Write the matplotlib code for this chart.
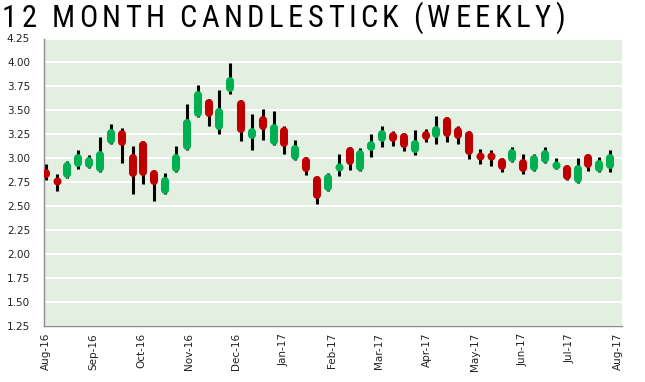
import numpy as np
import matplotlib
matplotlib.use('Agg')
import matplotlib.pyplot as plt
from matplotlib import font_manager

# ── Data: weekly OHLC, Aug-16 .. Jul-17 ──────────────────────────────────────
opens  = [2.89, 2.80, 2.79, 2.91, 2.90, 2.86, 3.15, 3.30, 3.04, 3.18,
          2.88, 2.63, 2.86, 3.09, 3.43, 3.62, 3.30, 3.69, 3.61, 3.20,
          3.44, 3.14, 3.33, 2.98, 3.01, 2.82, 2.66, 2.87, 3.12, 2.87,
          3.08, 3.17, 3.27, 3.26, 3.06, 3.29, 3.21, 3.43, 3.33, 3.28,
          3.06, 3.06, 3.00, 2.96, 2.99, 2.87, 2.95, 2.89, 2.93, 2.74,
          3.04, 2.86, 2.89]
highs  = [2.94, 2.84, 2.97, 3.09, 3.03, 3.22, 3.36, 3.32, 3.125, 3.18,
          2.88, 2.85, 3.125, 3.57, 3.77, 3.62, 3.71, 3.99, 3.61, 3.46,
          3.51, 3.49, 3.34, 3.19, 3.01, 2.82, 2.85, 3.04, 3.12, 3.11,
          3.25, 3.34, 3.29, 3.26, 3.30, 3.31, 3.44, 3.43, 3.34, 3.28,
          3.10, 3.09, 3.00, 3.12, 3.05, 3.05, 3.12, 3.00, 2.93, 3.00,
          3.04, 3.01, 3.09]
lows   = [2.77, 2.66, 2.79, 2.89, 2.90, 2.86, 3.15, 2.95, 2.63, 2.73,
          2.55, 2.63, 2.86, 3.09, 3.43, 3.34, 3.25, 3.67, 3.18, 3.09,
          3.19, 3.14, 3.04, 2.98, 2.83, 2.52, 2.66, 2.81, 2.88, 2.87,
          3.01, 3.12, 3.13, 3.08, 3.03, 3.17, 3.15, 3.17, 3.15, 2.99,
          2.94, 2.92, 2.855, 2.96, 2.84, 2.87, 2.95, 2.89, 2.77, 2.74,
          2.87, 2.86, 2.86]
closes = [2.79, 2.72, 2.96, 3.04, 3.01, 3.08, 3.31, 3.13, 2.80, 2.81,
          2.72, 2.80, 3.05, 3.41, 3.70, 3.43, 3.52, 3.85, 3.26, 3.32,
          3.29, 3.36, 3.12, 3.135, 2.86, 2.57, 2.84, 2.95, 2.93, 3.09,
          3.18, 3.30, 3.17, 3.11, 3.19, 3.19, 3.34, 3.22, 3.20, 3.03,
          2.98, 2.98, 2.88, 3.10, 2.86, 3.03, 3.09, 2.98, 2.77, 2.93,
          2.90, 2.98, 3.04]

months = ['Aug-16', 'Sep-16', 'Oct-16', 'Nov-16', 'Dec-16', 'Jan-17', 'Feb-17',
          'Mar-17', 'Apr-17', 'May-17', 'Jun-17', 'Jul-17', 'Aug-17']
y_ticks = np.arange(1.25, 4.26, 0.25)
TITLE = '12 MONTH CANDLESTICK (WEEKLY)'

# ── Palette ───────────────────────────────────────────────────────────────────
GREEN = '#00B050'
RED   = '#C00000'
PLOT_BG = '#E3F0E1'
AXIS_C = '#8C8C8C'

W, H, DPI = 645, 382, 100
BODY_LW = 5.8   # points
WICK_LW = 2.2

fig = plt.figure(figsize=(W / DPI, H / DPI), dpi=DPI)
fig.patch.set_facecolor('white')
ax = fig.add_axes([44 / W, 1 - 326 / H, (622 - 44) / W, (326 - 38.5) / H])
ax.set_facecolor(PLOT_BG)

n = len(opens)
x = np.arange(n)
ax.set_xlim(-0.16, 53.1)
ax.set_ylim(1.25, 4.25)

# cap radius in data units, so the rounded bodies keep the read extents
px_per_unit = ax.transData.transform([(0, 1)])[0][1] - ax.transData.transform([(0, 0)])[0][1]
r = (BODY_LW / 2 * DPI / 72) / px_per_unit

for yv in y_ticks:
    ax.axhline(yv, color='white', linewidth=1.3, zorder=1)

ax.vlines(x, lows, highs, color='black', linewidth=WICK_LW, zorder=2)
for i in range(n):
    o, c = opens[i], closes[i]
    col = GREEN if c >= o else RED
    top, bot = max(o, c) - r, min(o, c) + r
    if top - bot < 0.01:
        # body shorter than its own width: a round dot
        ax.plot([i], [(o + c) / 2], marker='o', markersize=BODY_LW,
                color=col, markeredgewidth=0, zorder=3)
    else:
        ax.plot([i, i], [bot, top], color=col, linewidth=BODY_LW,
                solid_capstyle='round', zorder=3)

# ── Axes cosmetics ────────────────────────────────────────────────────────────
for s in ['top', 'right']:
    ax.spines[s].set_visible(False)
for s in ['left', 'bottom']:
    ax.spines[s].set_color(AXIS_C)
    ax.spines[s].set_linewidth(1.0)

ax.set_yticks(y_ticks)
ax.set_yticklabels([f'{v:.2f}' for v in y_ticks])
ax.set_xticks(np.arange(len(months)) * 4.39)
ax.set_xticklabels(months, rotation=90)
ax.tick_params(axis='both', length=0, labelsize=7.5, colors='#222222')
ax.tick_params(axis='y', pad=10)
ax.tick_params(axis='x', pad=5)

# ── Title: letter-spaced, one text per glyph ──────────────────────────────────
names = {f.name for f in font_manager.fontManager.ttflist}
title_font = next((f for f in ['Liberation Sans Narrow', 'DejaVu Sans Condensed',
                               'Roboto Condensed', 'Liberation Sans']
                   if f in names), 'DejaVu Sans')

renderer = fig.canvas.get_renderer()
X0, X1, BASE = 2, 565, 27          # pixel span and baseline of the title
WORD_GAP = 3.3                      # word gap as multiple of letter gap

def glyph_widths(fs):
    ws = []
    for ch in TITLE.replace(' ', ''):
        t = fig.text(0, 0, ch, fontsize=fs, family=title_font)
        ws.append(t.get_window_extent(renderer).width)
        t.remove()
    return ws

words = TITLE.split()
fs = 22
while True:
    ws = glyph_widths(fs)
    n_letter_gaps = sum(len(w) - 1 for w in words)
    n_word_gaps = len(words) - 1
    gap = (X1 - X0 - sum(ws)) / (n_letter_gaps + WORD_GAP * n_word_gaps)
    if gap >= 4 or fs <= 14:
        break
    fs -= 0.5

xpos = X0
k = 0
for wi, w in enumerate(words):
    for ci, ch in enumerate(w):
        fig.text(xpos / W, 1 - BASE / H, ch, fontsize=fs, family=title_font,
                 color='black', ha='left', va='baseline')
        xpos += ws[k] + (gap if ci < len(w) - 1 else 0)
        k += 1
    xpos += gap * WORD_GAP

fig.savefig('out.png', dpi=DPI, facecolor='white')
